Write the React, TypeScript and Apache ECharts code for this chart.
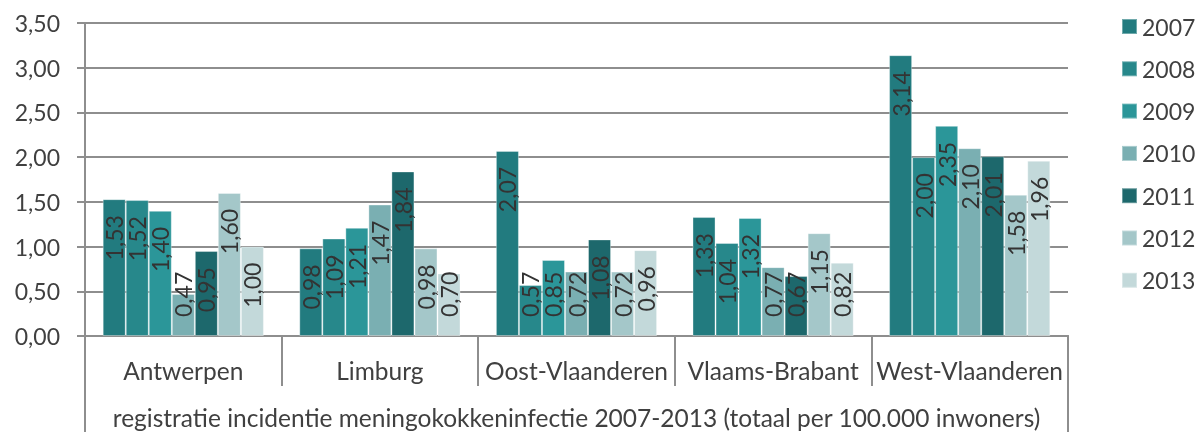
import React, { useEffect, useRef } from "react";
import * as echarts from "echarts";

const categories = ["Antwerpen", "Limburg", "Oost-Vlaanderen", "Vlaams-Brabant", "West-Vlaanderen"];
const years = ["2007", "2008", "2009", "2010", "2011", "2012", "2013"];
const v2007 = [1.53, 0.98, 2.07, 1.33, 3.14];
const v2008 = [1.52, 1.09, 0.57, 1.04, 2.0];
const v2009 = [1.4, 1.21, 0.85, 1.32, 2.35];
const v2010 = [0.47, 1.47, 0.72, 0.77, 2.1];
const v2011 = [0.95, 1.84, 1.08, 0.67, 2.01];
const v2012 = [1.6, 0.98, 0.72, 1.15, 1.58];
const v2013 = [1.0, 0.7, 0.96, 0.82, 1.96];
const seriesValues = [v2007, v2008, v2009, v2010, v2011, v2012, v2013];
const colors = ["#227b7f", "#27888b", "#2b9699", "#7aafb2", "#1d686c", "#a4c7c9", "#c3d9da"];
const axisTitle = "registratie incidentie meningokokkeninfectie 2007-2013 (totaal per 100.000 inwoners)";

const FONT = "Lato";
const TEXT = "#404040";
const LINE = "#8e8e8e";
const fmt = (v: number) => v.toFixed(2).replace(".", ",");

export default function App() {
  const ref = useRef<HTMLDivElement>(null);
  useEffect(() => {
    if (!ref.current) return;
    const chart = echarts.init(ref.current, null, { renderer: "svg" });
    const series = years.map((y, i) => ({
      name: y,
      type: "bar",
      xAxisIndex: 0,
      barGap: "0%",
      barCategoryGap: "18%",
      itemStyle: { color: colors[i], borderColor: "rgba(255,255,255,0.35)", borderWidth: 1 },
      data: seriesValues[i].map((v) => {
        const small = v < 0.9;
        return {
          value: v,
          label: small
            ? { position: "insideBottom", distance: 19, align: "left" }
            : { position: "insideTop", distance: 16, align: "right" },
        };
      }),
      label: {
        show: true,
        rotate: 90,
        verticalAlign: "middle",
        fontFamily: FONT,
        fontSize: 23,
        color: "#333333",
        formatter: (p: any) => fmt(p.value),
      },
    }));
    chart.setOption({
      animation: false,
      textStyle: { fontFamily: FONT },
      color: colors,
      legend: {
        orient: "vertical",
        left: 1121,
        top: 15,
        padding: 0,
        itemWidth: 15,
        itemHeight: 15,
        itemGap: 19.3,
        icon: "rect",
        data: years,
        textStyle: { fontFamily: FONT, fontSize: 23, color: TEXT, lineHeight: 22 },
      },
      grid: { left: 85, right: 132, top: 23, bottom: 96, containLabel: false },
      xAxis: [
        {
          type: "category",
          data: categories,
          position: "bottom",
          axisLine: { show: true, lineStyle: { color: LINE, width: 2 } },
          axisTick: { show: true, interval: 0, length: 50, lineStyle: { color: LINE, width: 2 } },
          axisLabel: { interval: 0, margin: 23, fontFamily: FONT, fontSize: 24.5, lineHeight: 22, color: TEXT },
        },
        {
          type: "category",
          data: [axisTitle],
          position: "bottom",
          axisLine: { show: true, lineStyle: { color: LINE, width: 2 } },
          axisTick: { show: true, interval: 0, length: 96, lineStyle: { color: LINE, width: 2 } },
          axisLabel: { interval: 0, margin: 70, fontFamily: FONT, fontSize: 24.5, lineHeight: 22, color: TEXT },
        },
      ],
      yAxis: {
        type: "value",
        min: 0,
        max: 3.5,
        interval: 0.5,
        axisLine: { show: true, lineStyle: { color: LINE, width: 2 } },
        axisTick: { show: true, length: 8, lineStyle: { color: LINE, width: 2 } },
        splitLine: { show: true, lineStyle: { color: LINE, width: 2 } },
        axisLabel: { margin: 25, fontFamily: FONT, fontSize: 23, color: TEXT, formatter: (v: number) => fmt(v) },
      },
      series,
    });
    return () => chart.dispose();
  }, []);
  return <div ref={ref} style={{ position: "fixed", left: 0, top: 0, width: 1200, height: 432 }} />;
}
